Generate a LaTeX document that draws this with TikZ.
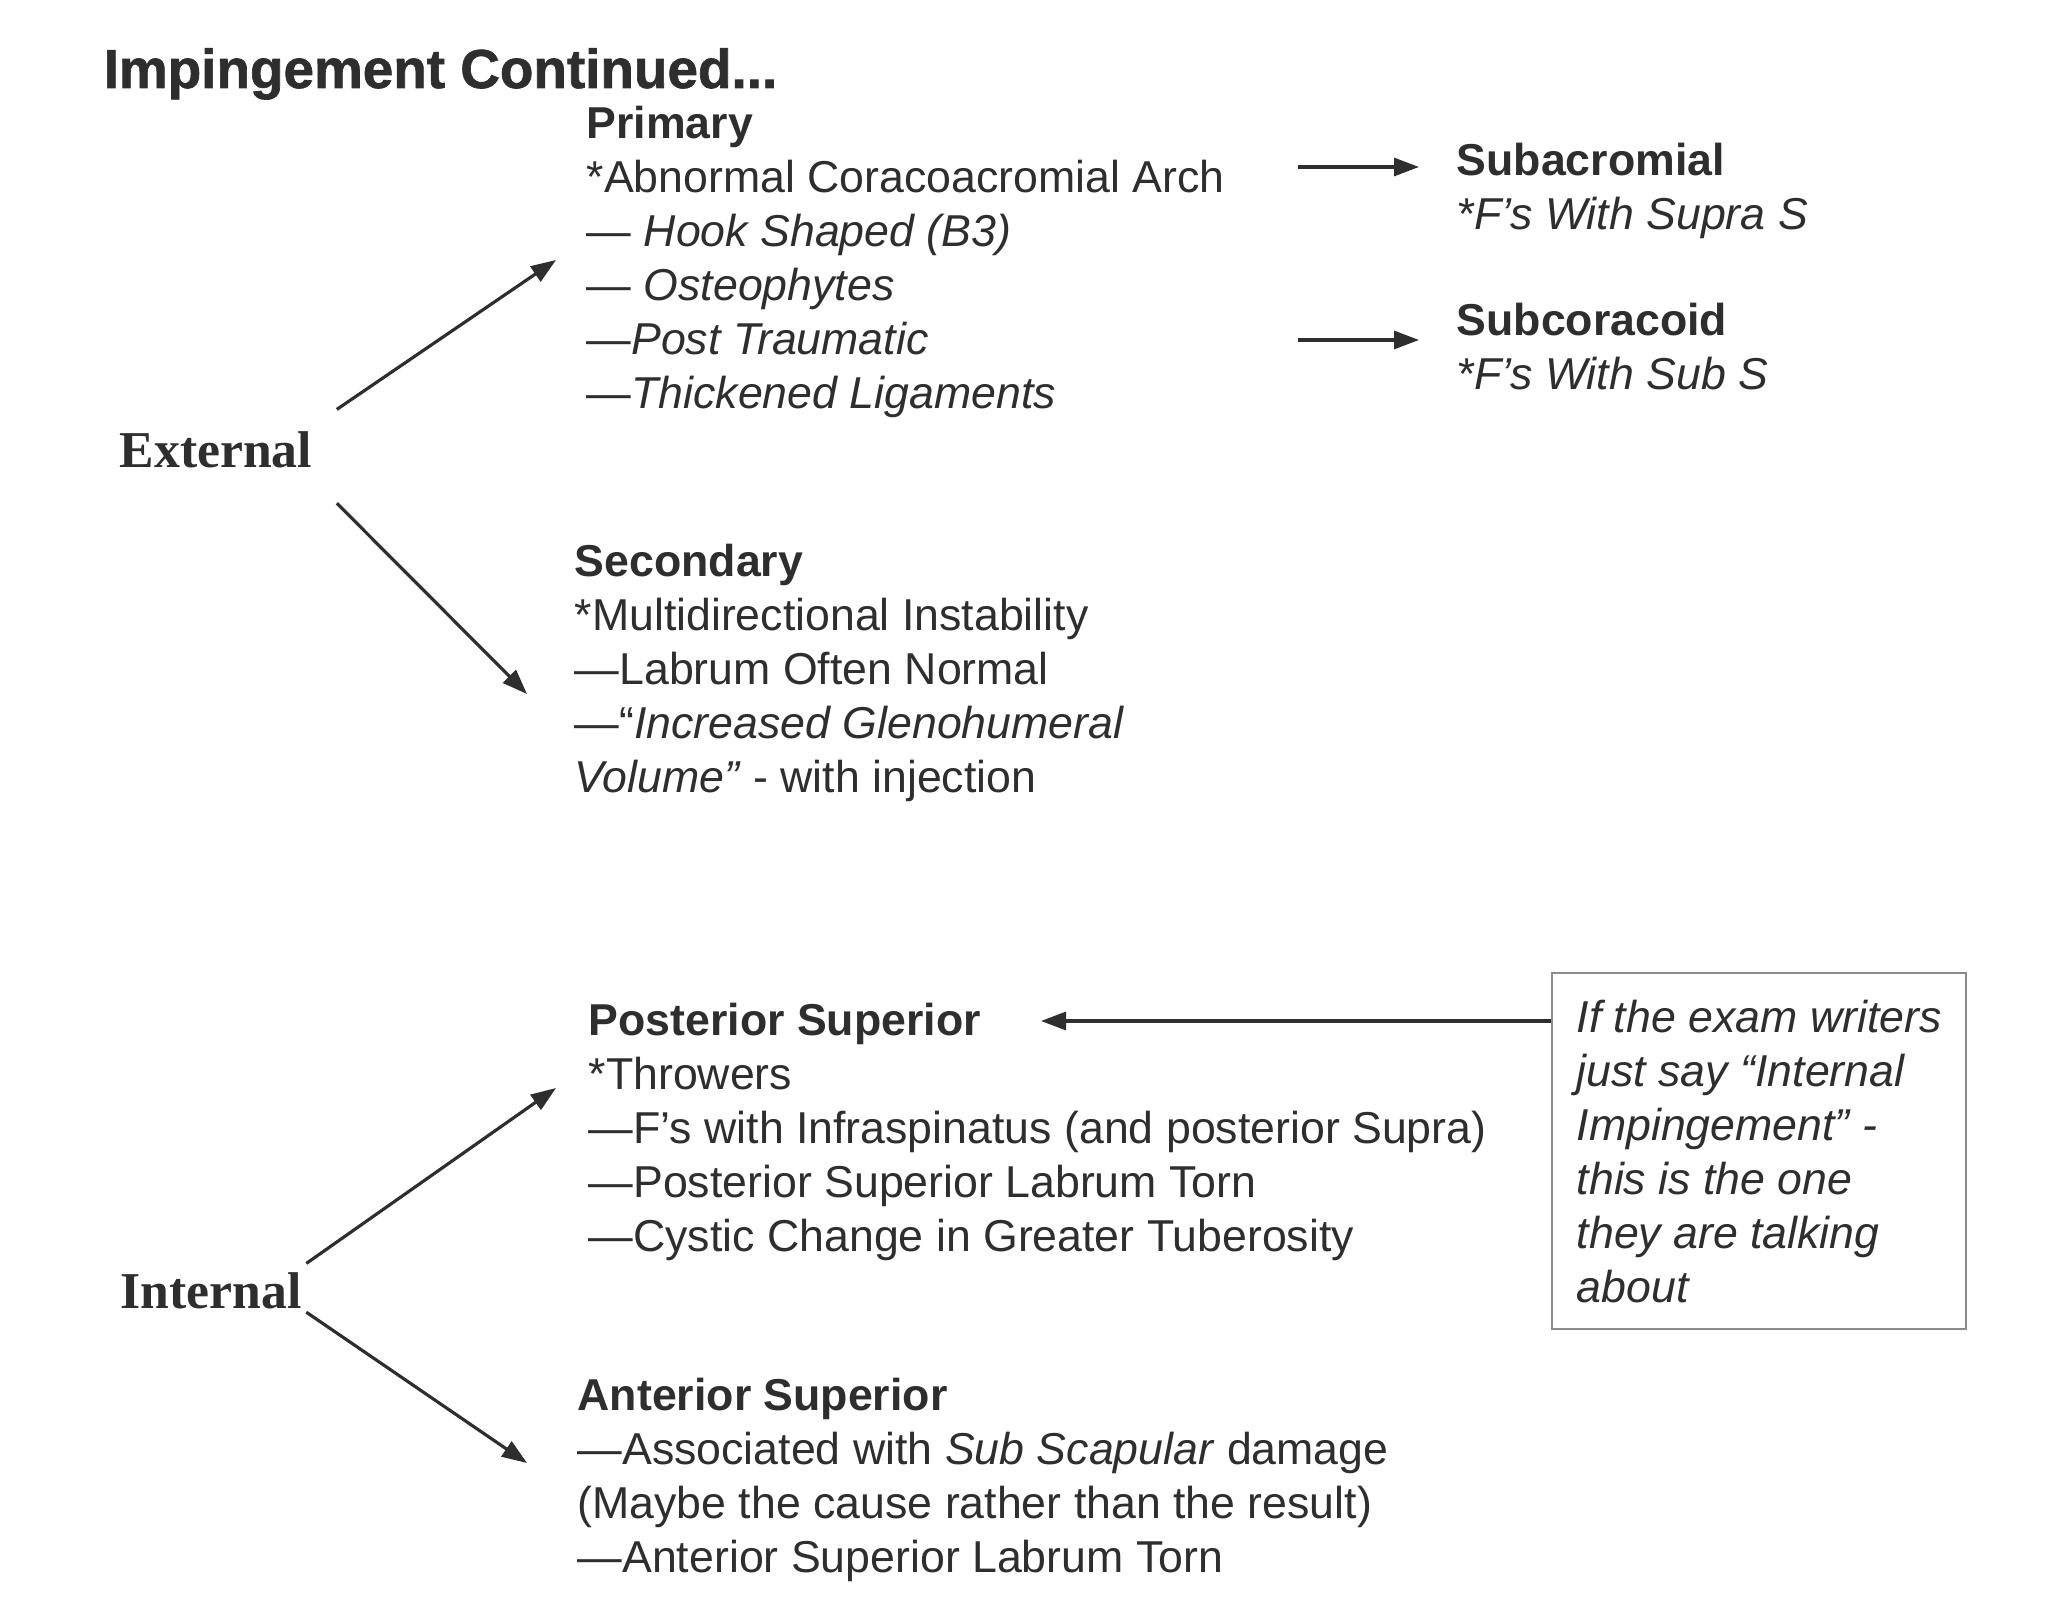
\documentclass[tikz,border=0pt]{standalone}
\usepackage{fontspec}
\setmainfont{Liberation Sans}
\newfontfamily\labfont{Liberation Serif}
\newfontfamily\headfont[FakeBold=1.2]{Liberation Sans Bold}
\usetikzlibrary{arrows.meta}
\definecolor{ink}{HTML}{2E2E2E}
\definecolor{frame}{HTML}{8C8C8C}

\begin{document}
\begin{tikzpicture}[x=0.01cm,y=-0.01cm,
    txt/.style={inner sep=0pt, anchor=north west, align=left, text=ink, font=\fontsize{12.7}{15.36}\selectfont},
    side/.style={inner sep=0pt, anchor=base west, text=ink, font=\labfont\bfseries\fontsize{14.7}{17}\selectfont},
    arr/.style={draw=ink, line width=0.9pt, -{Triangle[length=0.25cm,width=0.18cm]}}]
    \useasboundingbox[fill=white] (0,0) rectangle (2066,1622);
    \node [inner sep=0pt, anchor=base west, text=ink, font=\headfont\fontsize{15.6}{19}\selectfont] (title) at (103,88) {Impingement Continued...};
    \node [side] (ext) at (119,468) {External};
    \node [side] (int) at (120,1308) {Internal};
    \node [txt] (prim) at (586,105) {\textbf{Primary}\\ *Abnormal Coracoacromial Arch\\ --- \textit{Hook Shaped (B3)}\\ --- \textit{Osteophytes}\\ ---\textit{Post Traumatic}\\ ---\textit{Thickened Ligaments}};
    \node [txt] (subA) at (1456,142) {\textbf{Subacromial}\\ \textit{*F’s With Supra S}};
    \node [txt] (subC) at (1456,302) {\textbf{Subcoracoid}\\ \textit{*F’s With Sub S}};
    \node [txt] (sec) at (574,543) {\textbf{Secondary}\\ *Multidirectional Instability\\ ---Labrum Often Normal\\ ---“\textit{Increased Glenohumeral}\\ \textit{Volume”} - with injection};
    \node [txt] (post) at (588,1002) {\textbf{Posterior Superior}\\ *Throwers\\ ---F’s with Infraspinatus (and posterior Supra)\\ ---Posterior Superior Labrum Torn\\ ---Cystic Change in Greater Tuberosity};
    \node [txt] (ant) at (577,1377) {\textbf{Anterior Superior}\\ ---Associated with \textit{Sub Scapular} damage\\ (Maybe the cause rather than the result)\\ ---Anterior Superior Labrum Torn};
    \node [txt, draw=frame, line width=0.6pt, inner xsep=0.24cm, minimum width=4.14cm, minimum height=3.56cm, font=\itshape\fontsize{12.7}{15.36}\selectfont] (note) at (1551,972) {If the exam writers\\ just say “Internal\\ Impingement” -\\ this is the one\\ they are talking\\ about};
    \draw [arr] ([shift={(24,-22)}]ext.north east) -- ([shift={(-30,155)}]prim.north west);
    \draw [arr] ([shift={(24,34)}]ext.south east) -- ([shift={(-47,151)}]sec.north west);
    \draw [arr] ([shift={(4,-8)}]int.north east) -- ([shift={(-32,86)}]post.north west);
    \draw [arr] ([shift={(4,3)}]int.south east) -- ([shift={(-50,86)}]ant.north west);
    \draw [arr] ([shift={(-158,25)}]subA.north west) -- ++(121,0);
    \draw [arr] ([shift={(-158,38)}]subC.north west) -- ++(121,0);
    \draw [arr] ([shift={(0,49)}]note.north west) -- ++(-510,0);
\end{tikzpicture}
\end{document}
